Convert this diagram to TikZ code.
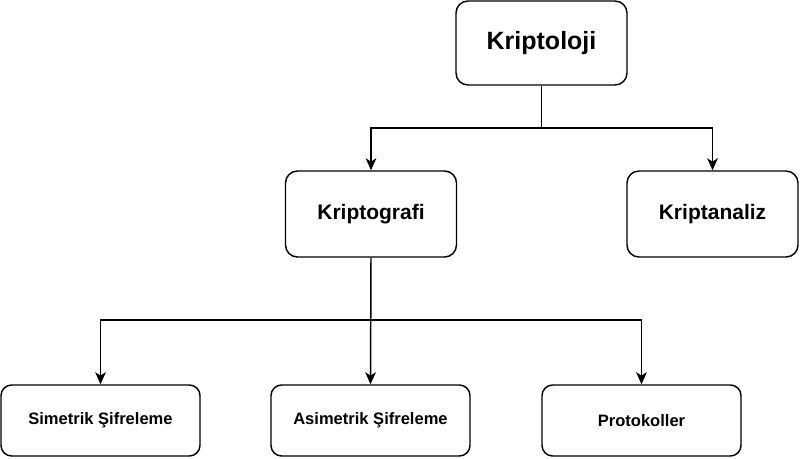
\documentclass[tikz,border=0pt]{standalone}
\usepackage{fontspec}
\setmainfont{Liberation Sans}
\usetikzlibrary{arrows.meta}
\begin{document}
\begin{tikzpicture}[x=0.75pt,y=-0.75pt,
  box/.style={draw=black,line width=1.1pt,rounded corners=9pt,fill=white,inner sep=0pt,font=\bfseries},
  conn/.style={draw=black,line width=1.1pt,-{Stealth[length=9pt,width=8pt,inset=2.5pt]}},
  line/.style={draw=black,line width=1.1pt}]
\useasboundingbox (0,0) rectangle (800,458);
\node[box,minimum width=171*0.75pt,minimum height=84*0.75pt,font=\bfseries\fontsize{18.75pt}{22pt}\selectfont] (kl) at (541.5,43) {Kriptoloji};
\node[box,minimum width=171*0.75pt,minimum height=86*0.75pt,font=\bfseries\fontsize{15.75pt}{19pt}\selectfont] (kg) at (371,214) {Kriptografi};
\node[box,minimum width=171*0.75pt,minimum height=86*0.75pt,font=\bfseries\fontsize{15.75pt}{19pt}\selectfont] (ka) at (712.5,214) {Kriptanaliz};
\node[box,rounded corners=8pt,minimum width=199*0.75pt,minimum height=71*0.75pt,font=\bfseries\fontsize{12.4pt}{15pt}\selectfont] (s) at (100.5,420.5) {Simetrik Şifreleme};
\node[box,rounded corners=8pt,minimum width=199*0.75pt,minimum height=71*0.75pt,font=\bfseries\fontsize{12.4pt}{15pt}\selectfont] (as) at (370.5,420.5) {Asimetrik Şifreleme};
\node[box,rounded corners=8pt,minimum width=199*0.75pt,minimum height=71*0.75pt,font=\bfseries\fontsize{12.4pt}{15pt}\selectfont] (p) at (641.5,420.5) {Protokoller};
\coordinate (j1) at (541.5,128);
\coordinate (j2) at (371,320);
\draw[line] (kl.south) -- (j1);
\draw[conn] (j1) -| (kg.north);
\draw[conn] (j1) -| (ka.north);
\draw[conn] (kg.south) -- (as.north);
\draw[conn] (j2) -| (s.north);
\draw[conn] (j2) -| (p.north);
\end{tikzpicture}
\end{document}
